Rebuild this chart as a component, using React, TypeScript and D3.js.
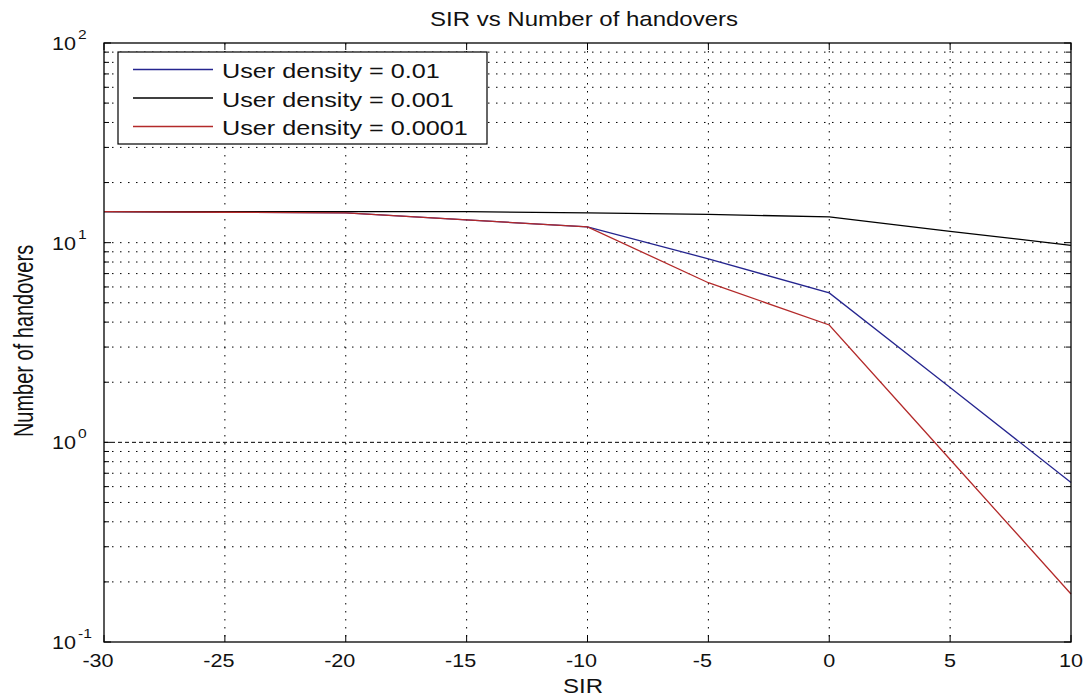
import React from "react";
import * as d3 from "d3";

const title = "SIR vs Number of handovers";
const xLabel = "SIR";
const yLabel = "Number of handovers";
const sir = [-30, -25, -20, -15, -10, -5, 0, 5, 10];
const density001 = [14.3, 14.2, 14.1, 13.0, 12.0, 8.3, 5.6, 1.88, 0.63];
const density0001 = [14.3, 14.3, 14.3, 14.3, 14.1, 13.86, 13.45, 11.4, 9.7];
const density00001 = [14.3, 14.2, 14.1, 13.0, 12.0, 6.3, 3.87, 0.82, 0.174];
const seriesNames = ["User density = 0.01", "User density = 0.001", "User density = 0.0001"];
const seriesColors = ["#25258f", "#000000", "#b32a2a"];
const xTicks = [-30, -25, -20, -15, -10, -5, 0, 5, 10];
const yDecades = [-1, 0, 1, 2];

const W = 1086, H = 700;
const M = { left: 104, right: 1071, top: 43, bottom: 642 };
const SX = 1.2;
const FONT = "'Liberation Sans', Arial, Helvetica, sans-serif";

function T({ x, y, size, anchor = "start", children, sx = SX }: any) {
  return (
    <text transform={`translate(${x},${y}) scale(${sx},1)`} fontSize={size} textAnchor={anchor} fill="#111">
      {children}
    </text>
  );
}

export default function App() {
  const x = d3.scaleLinear().domain([-30, 10]).range([M.left, M.right]);
  const y = d3.scaleLog().domain([0.1, 100]).range([M.bottom, M.top]);
  const seriesData = [density001, density0001, density00001];
  const line = d3
    .line<[number, number]>()
    .x((d) => x(d[0]))
    .y((d) => y(d[1]));

  const minorVals: number[] = [];
  for (let e = -1; e < 2; e++) {
    for (let k = 2; k <= 9; k++) minorVals.push(k * Math.pow(10, e));
  }

  const dot = "1.5,6.5";
  return (
    <svg width={W} height={H} style={{ position: "absolute", left: 0, top: 0, background: "#fff" }} fontFamily={FONT}>
      <rect x={0} y={0} width={W} height={H} fill="#fff" />
      {/* grid */}
      {xTicks
        .filter((t) => t !== -30 && t !== 10)
        .map((t) => (
          <line key={"gx" + t} x1={x(t)} x2={x(t)} y1={M.top} y2={M.bottom} stroke="#000" strokeDasharray={dot} strokeWidth={1} />
        ))}
      {minorVals.map((v) => (
        <line key={"gm" + v} x1={M.left} x2={M.right} y1={y(v)} y2={y(v)} stroke="#000" strokeDasharray={dot} strokeWidth={1} />
      ))}
      {yDecades
        .filter((e) => e === 0 || e === 1)
        .map((e) => (
          <line
            key={"gd" + e}
            x1={M.left}
            x2={M.right}
            y1={y(Math.pow(10, e))}
            y2={y(Math.pow(10, e))}
            stroke="#000"
            strokeDasharray={e === 0 ? "4,3" : dot}
            strokeWidth={1}
          />
        ))}
      {/* series */}
      {seriesData.map((vals, i) => (
        <path
          key={"s" + i}
          d={line(sir.map((s, j) => [s, vals[j]]) as [number, number][]) || ""}
          fill="none"
          stroke={seriesColors[i]}
          strokeWidth={1.3}
        />
      ))}
      {/* frame */}
      <rect x={M.left} y={M.top} width={M.right - M.left} height={M.bottom - M.top} fill="none" stroke="#000" strokeWidth={1.3} />
      {/* x ticks */}
      {xTicks.map((t) => (
        <g key={"tx" + t}>
          <line x1={x(t)} x2={x(t)} y1={M.bottom} y2={M.bottom - 7} stroke="#000" />
          <line x1={x(t)} x2={x(t)} y1={M.top} y2={M.top + 7} stroke="#000" />
          <T x={x(t) - (t < 0 ? 6 : 0)} y={667} size={18} anchor="middle">
            {String(t)}
          </T>
        </g>
      ))}
      {/* y ticks */}
      {yDecades.map((e) => {
        const yy = y(Math.pow(10, e));
        return (
          <g key={"ty" + e}>
            <line x1={M.left} x2={M.left + 7} y1={yy} y2={yy} stroke="#000" />
            <line x1={M.right} x2={M.right - 7} y1={yy} y2={yy} stroke="#000" />
            <T x={76} y={yy + 7} size={18} anchor="end">
              10
            </T>
            <T x={78} y={yy - 4} size={13} anchor="start">
              {String(e)}
            </T>
          </g>
        );
      })}
      {minorVals.map((v) => (
        <g key={"tm" + v}>
          <line x1={M.left} x2={M.left + 5} y1={y(v)} y2={y(v)} stroke="#000" />
          <line x1={M.right} x2={M.right - 5} y1={y(v)} y2={y(v)} stroke="#000" />
        </g>
      ))}
      {/* legend */}
      <rect x={118} y={52} width={369} height={92} fill="#fff" stroke="#000" strokeWidth={1.2} />
      {seriesNames.map((n, i) => {
        const ly = 69.5 + i * 28.5;
        return (
          <g key={"lg" + i}>
            <line x1={133} x2={213} y1={ly} y2={ly} stroke={seriesColors[i]} strokeWidth={1.3} />
            <T x={222} y={ly + 8.5} size={21}>
              {n}
            </T>
          </g>
        );
      })}
      {/* labels */}
      <T x={584} y={26} size={20} anchor="middle">
        {title}
      </T>
      <T x={583} y={693} size={20} anchor="middle">
        {xLabel}
      </T>
      <text transform={`translate(33,341) rotate(-90) scale(1,1.35)`} fontSize={20} textAnchor="middle" fill="#111">
        {yLabel}
      </text>
    </svg>
  );
}
